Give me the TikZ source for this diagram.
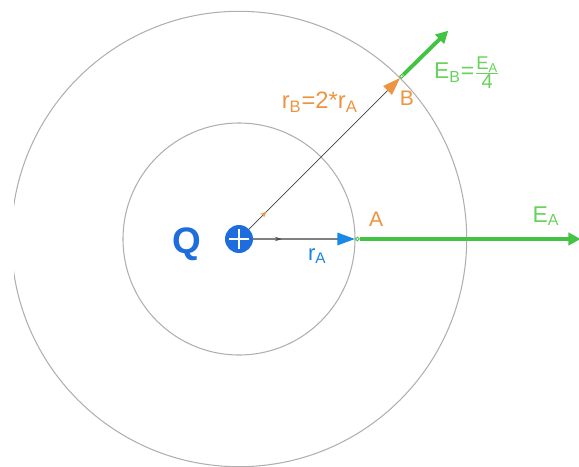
\documentclass[tikz,border=0pt]{standalone}
\usepackage{fontspec}
\setmainfont{Liberation Sans}
\usepackage{tikz}
\usetikzlibrary{arrows.meta}
\usetikzlibrary{positioning, decorations.markings}

\definecolor{qblue}{RGB}{30,108,222}
\definecolor{rorange}{RGB}{236,148,66}
\definecolor{egreen}{RGB}{66,196,66}
\definecolor{lgreen}{RGB}{104,210,92}
\definecolor{ringgray}{RGB}{175,175,175}

\tikzset{
    ring/.style={draw=ringgray, line width=0.6pt},
    spot/.style={circle, draw=egreen, fill=white, inner sep=0pt, minimum size=2.2pt, line width=0.5pt},
    field/.style={draw=egreen, line width=2.2pt, -{Triangle[length=7pt, width=7pt]}},
    orlbl/.style={text=rorange, font=\fontsize{12}{12}\selectfont},
    grlbl/.style={text=lgreen, font=\fontsize{13}{13}\selectfont},
}

\begin{document}
\begin{tikzpicture}[x=0.02cm, y=-0.02cm]
    \useasboundingbox (0,0) rectangle (579,467);
    \clip (14,0) rectangle (579,467);

    \coordinate (q) at (239,239);
    \draw[ring] (q) circle (116);
    \draw[ring] (q) circle (227.7);

    \node [spot] [right=2.32cm of q] (a) {};
    \node [spot] [above right=3.22cm and 3.22cm of q] (b) {};
    \coordinate [right=4.42cm of a] (ea);
    \coordinate [above right=0.88cm and 0.9cm of b] (eb);

    % field vectors
    \draw[field] (a) -- (ea);
    \draw[field] (b) -- (eb);

    % radius vectors
    \draw[black!75, line width=0.4pt,
          postaction={decorate, decoration={markings,
              mark=at position 0.17 with {\arrow[rorange]{Stealth[length=3.5pt, width=3pt]}}}},
          -{Triangle[color=rorange, length=10pt, width=7pt]}] (q) -- (b);
    \draw[gray, line width=1.2pt,
          postaction={decorate, decoration={markings,
              mark=at position 0.37 with {\arrow[black!70]{Stealth[length=4pt, width=2.5pt]}}}},
          -{Triangle[color=qblue!80!cyan, length=10pt, width=7pt]}] (q) -- (a);

    % the charge
    \node [circle, fill=qblue, minimum size=0.56cm, inner sep=0pt] (charge) at (q) {};
    \draw[white, line width=1.6pt] ([xshift=-0.2cm]charge.center) -- ([xshift=0.2cm]charge.center);
    \draw[white, line width=1.6pt] ([yshift=-0.2cm]charge.center) -- ([yshift=0.2cm]charge.center);

    % labels
    \node [left=0.35cm of charge, yshift=-3pt, text=qblue, font=\fontsize{21}{21}\selectfont\bfseries] (qlbl) {Q};
    \node [below=0.02cm of a, xshift=-0.8cm, text=qblue!85!cyan, font=\fontsize{12.5}{12}\selectfont] (ralbl) {r\textsubscript{A}};
    \node [orlbl, above right=0.1cm and 0.08cm of a] (albl) {A};
    \node [orlbl, below=0.12cm of b, xshift=3pt] (blbl) {B};
    \node [orlbl, below left=0.16cm and 0.72cm of b, font=\fontsize{13.5}{13}\selectfont] (rblbl) {r\textsubscript{B}=2*r\textsubscript{A}};
    \node [grlbl, right=0.56cm of b, yshift=2pt, inner sep=1pt] (eblbl)
        {E\textsubscript{B}=$\frac{\mbox{\fontsize{10.5}{10}\selectfont E\textsubscript{A}}}{\mbox{\fontsize{11.5}{11}\selectfont 4}}$};
    \node [grlbl, above left=0.14cm and 0.3cm of ea] (ealbl) {E\textsubscript{A}};
\end{tikzpicture}
\end{document}
